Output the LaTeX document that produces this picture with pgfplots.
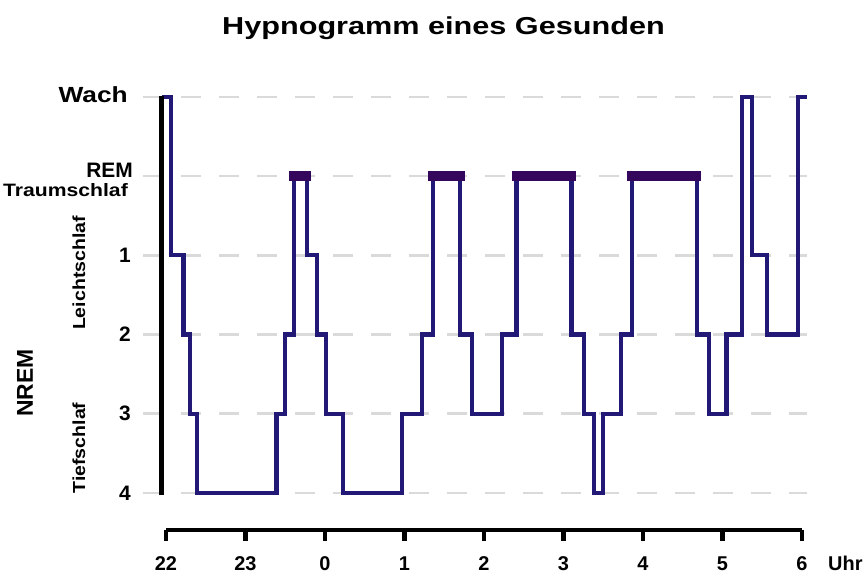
\documentclass[border=0pt]{standalone}
\usepackage{fontspec}
\setmainfont{Liberation Sans}
\newfontfamily\widesans{Liberation Sans}[FakeStretch=1.2]
\usepackage{graphicx}
\usepackage{pgfplots}
\pgfplotsset{compat=1.18}
\definecolor{hypno}{RGB}{34,24,118}
\definecolor{rembar}{RGB}{52,6,92}
\definecolor{gridc}{RGB}{218,218,218}
\newcommand{\fs}[1]{\fontsize{#1}{#1}\selectfont}
\begin{document}
\begin{tikzpicture}
\useasboundingbox (-166bp,-81bp) rectangle (697bp,493bp);
% dashed level lines
\foreach \k in {0,...,5} {
  \draw[gridc, line width=2.6bp, dash pattern=on 20bp off 18bp] (-23bp,{\k*79.2bp}) -- (641bp,{\k*79.2bp});
}
\begin{axis}[
  at={(0,0)}, anchor=origin,
  x=79.5bp, y=79.2bp,
  xmin=0, xmax=8, ymin=-0.47, ymax=5,
  clip=false,
  axis x line*=bottom,
  axis y line=none,
  x axis line style={line width=4.5bp, black},
  xtick={0,...,8},
  xticklabels={22,23,0,1,2,3,4,5,6},
  tick align=outside,
  major tick length=11bp,
  xtick style={line width=4.5bp, black},
  xticklabel style={font=\fs{20}\bfseries, anchor=base, yshift=-29bp},
  ytick=\empty,
]
% hypnogram: x = hours after 22:00, y: 0=Stadium 4, 1=3, 2=2, 3=1, 4=REM, 5=Wach
\addplot[const plot, color=hypno, line width=4.2bp, line join=miter] table {
x y
-0.054 5
0.06 3
0.22 2
0.30 1
0.386 0
1.39 1
1.50 2
1.61 4
1.77 3
1.90 2
2.01 1
2.23 0
2.97 1
3.22 2
3.355 4
3.70 2
3.85 1
4.23 2
4.41 4
5.10 2
5.26 1
5.38 0
5.50 1
5.72 2
5.86 4
6.675 2
6.83 1
7.05 2
7.25 5
7.37 3
7.56 2
7.95 5
8.06 5
};
% REM phases
\addplot[color=rembar, line width=9.5bp, line cap=rect] coordinates {(1.61,4) (1.77,4)};
\addplot[color=rembar, line width=9.5bp, line cap=rect] coordinates {(3.355,4) (3.70,4)};
\addplot[color=rembar, line width=9.5bp, line cap=rect] coordinates {(4.41,4) (5.10,4)};
\addplot[color=rembar, line width=9.5bp, line cap=rect] coordinates {(5.86,4) (6.675,4)};
\end{axis}
% y axis line
\draw[black, line width=4.5bp] (-4.3bp,-2bp) -- (-4.3bp,397.3bp);
% title
\node[anchor=base, inner sep=0pt] at (277.5bp,458.7bp) {\scalebox{1.25}[1]{\fs{24.6}\bfseries Hypnogramm eines Gesunden}};
% y labels
\node[anchor=base east, inner sep=0pt] at (-38bp,390.3bp) {\widesans\fs{22}\bfseries Wach};
\node[anchor=base east, inner sep=0pt] at (-33bp,315.3bp) {\fs{21}\bfseries REM};
\node[anchor=base east, inner sep=0pt] at (-38bp,296.3bp) {\scalebox{1.18}[1]{\fs{18}\bfseries Traumschlaf}};
\node[anchor=east, inner sep=0pt] at (-35bp,237.6bp) {\fs{21}\bfseries 1};
\node[anchor=east, inner sep=0pt] at (-35bp,158.4bp) {\fs{21}\bfseries 2};
\node[anchor=east, inner sep=0pt] at (-35bp,79.2bp) {\fs{21}\bfseries 3};
\node[anchor=east, inner sep=0pt] at (-35bp,0bp) {\fs{21}\bfseries 4};
\node[rotate=90, inner sep=0pt] at (-87bp,220bp) {\scalebox{1.12}[1]{\fs{17.5}\bfseries Leichtschlaf}};
\node[rotate=90, inner sep=0pt] at (-87bp,45bp) {\scalebox{1.12}[1]{\fs{17.5}\bfseries Tiefschlaf}};
\node[rotate=90, inner sep=0pt] at (-141bp,110bp) {\fs{23}\bfseries NREM};
% unit
\node[anchor=base west, inner sep=0pt] at (662bp,-77bp) {\fs{20}\bfseries Uhr};
\end{tikzpicture}
\end{document}
